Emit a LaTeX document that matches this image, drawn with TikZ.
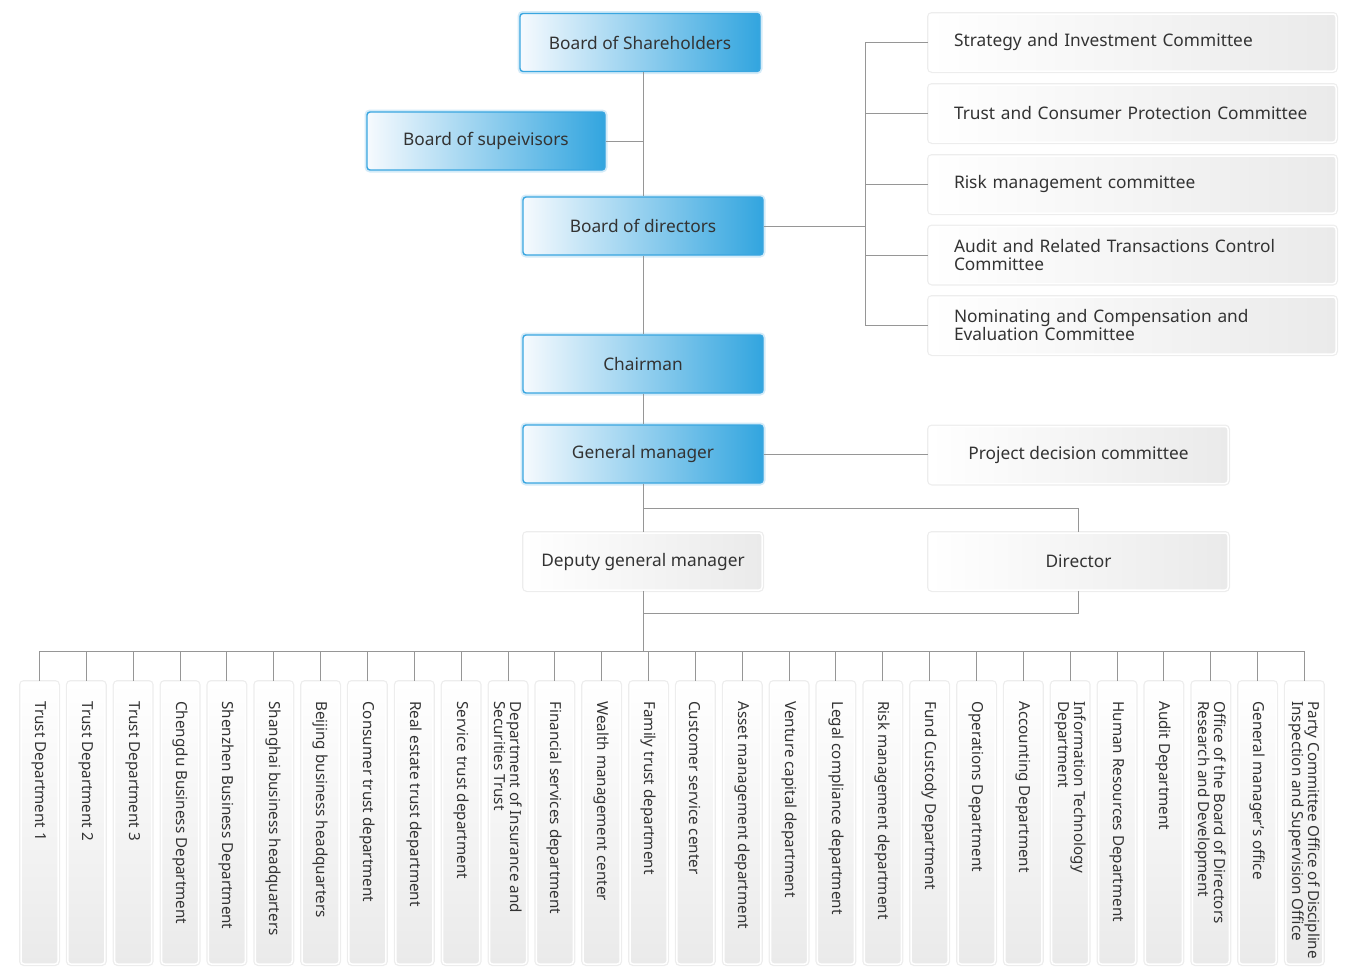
\documentclass[tikz,border=0pt]{standalone}
\usepackage{fontspec}
\setmainfont{Noto Sans}

\definecolor{lineGrey}{RGB}{150,150,150}
\definecolor{blueEdge}{RGB}{58,166,224}
\definecolor{blueDeep}{RGB}{50,165,223}
\definecolor{blueLight}{RGB}{246,250,254}
\definecolor{greyFill}{RGB}{234,234,234}
\definecolor{txtGrey}{RGB}{51,51,51}

\tikzset{every picture/.style={line width=0.75pt}}
\tikzset{
  link/.style={draw=lineGrey, line width=1pt},
  bluebox/.style={rounded corners=3pt, draw=blueEdge, line width=1.4pt,
    left color=blueLight, right color=blueDeep,
    preaction={draw=blueEdge!22, line width=5pt},
    minimum width=240pt, minimum height=58pt, inner sep=0pt,
    text=txtGrey, font=\fontsize{17.3}{18}\selectfont},
  greybox/.style={rounded corners=3pt, draw=white, line width=1.5pt,
    left color=white, right color=greyFill,
    preaction={draw=black!7, line width=4pt},
    minimum height=57pt, inner sep=0pt,
    text=txtGrey, font=\fontsize{17.3}{18}\selectfont},
  cmtbox/.style={greybox, minimum width=407pt, text width=357pt, align=left},
  deptbox/.style={greybox, top color=white, bottom color=greyFill,
    minimum width=37pt, minimum height=282pt},
  depttext/.style={rotate=-90, anchor=west, align=left, inner sep=0pt,
    text=txtGrey, font=\fontsize{15.2}{16}\selectfont}
}

\begin{document}
\begin{tikzpicture}[x=1pt,y=1pt,yscale=-1]
\useasboundingbox (0,0) rectangle (1347,977);

% main line of command
\node[bluebox] (sh) at (640,42.5) {Board of Shareholders};
\node[bluebox, minimum width=238pt] (sup) at (486,141) {Board of supeivisors};
\node[bluebox] (dir) at (643,226) {Board of directors};
\node[bluebox] (chair) at (643,364) {Chairman};
\node[bluebox] (gm) at (643,454) {General manager};
\node[greybox, minimum width=238pt] (dep) at (643,561.5) {Deputy general manager};
\node[greybox, minimum width=299pt] (dtr) at (1078.5,561.5) {Director};
\node[greybox, minimum width=299pt] (proj) at (1078.5,455) {Project decision committee};

% committees of the board
\node[cmtbox] (c1) at (1132.5,42.5) {Strategy and Investment Committee};
\node[cmtbox] (c2) at (1132.5,113.5) {Trust and Consumer Protection Committee};
\node[cmtbox] (c3) at (1132.5,184.5) {Risk management committee};
\node[cmtbox] (c4) at (1132.5,255) {Audit and Related Transactions Control\\Committee};
\node[cmtbox] (c5) at (1132.5,325.5) {Nominating and Compensation and\\Evaluation Committee};

% departments
\foreach \t [count=\i from 0, evaluate=\i as \x using 39.5+46.85*\i] in {
  Trust Department 1, Trust Department 2, Trust Department 3,
  Chengdu Business Department, Shenzhen Business Department,
  Shanghai business headquarters, Beijing business headquarters,
  Consumer trust department, Real estate trust department,
  Service trust department, {Department of Insurance and\\Securities Trust},
  Financial services department, Wealth management center,
  Family trust department, Customer service center,
  Asset management department, Venture capital department,
  Legal compliance department, Risk management department,
  Fund Custody Department, Operations Department, Accounting Department,
  {Information Technology\\Department}, Human Resources Department,
  Audit Department, {Office of the Board of Directors\\Research and Development},
  General manager's office,
  {Party Committee Office of Discipline\\Inspection and Supervision Office}}
{
  \node[deptbox] (d\i) at (\x,823) {};
  \node[depttext] (t\i) at (\x,701) {\t};
}

% connectors
\draw[link] (sh.south -| dir.north) -- (dir.north);
\draw[link] (sup.east) -- (sup.east -| dir.north);
\draw[link] (dir.south) -- (chair.north);
\draw[link] (chair.south) -- (gm.north);
\draw[link] (gm.south) -- (dep.north);
\draw[link] (gm.east) -- (gm.east -| proj.west);

\coordinate (cbus) at (865,226);
\draw[link] (dir.east) -- (cbus);
\draw[link] (c1.west -| cbus) -- (c5.west -| cbus);
\foreach \i in {1,...,5}
  \draw[link] (c\i.west -| cbus) -- (c\i.west);

\coordinate (b1) at (643,508);
\coordinate (b2) at (643,613);
\draw[link] (b1) -| (dtr.north);
\draw[link] (dtr.south) |- (b2);

\coordinate (bus) at (643,651);
\draw[link] (dep.south) -- (bus);
\draw[link] (d0.north |- bus) -- (d27.north |- bus);
\foreach \i in {0,...,27}
  \draw[link] (d\i.north |- bus) -- (d\i.north);

\end{tikzpicture}
\end{document}
